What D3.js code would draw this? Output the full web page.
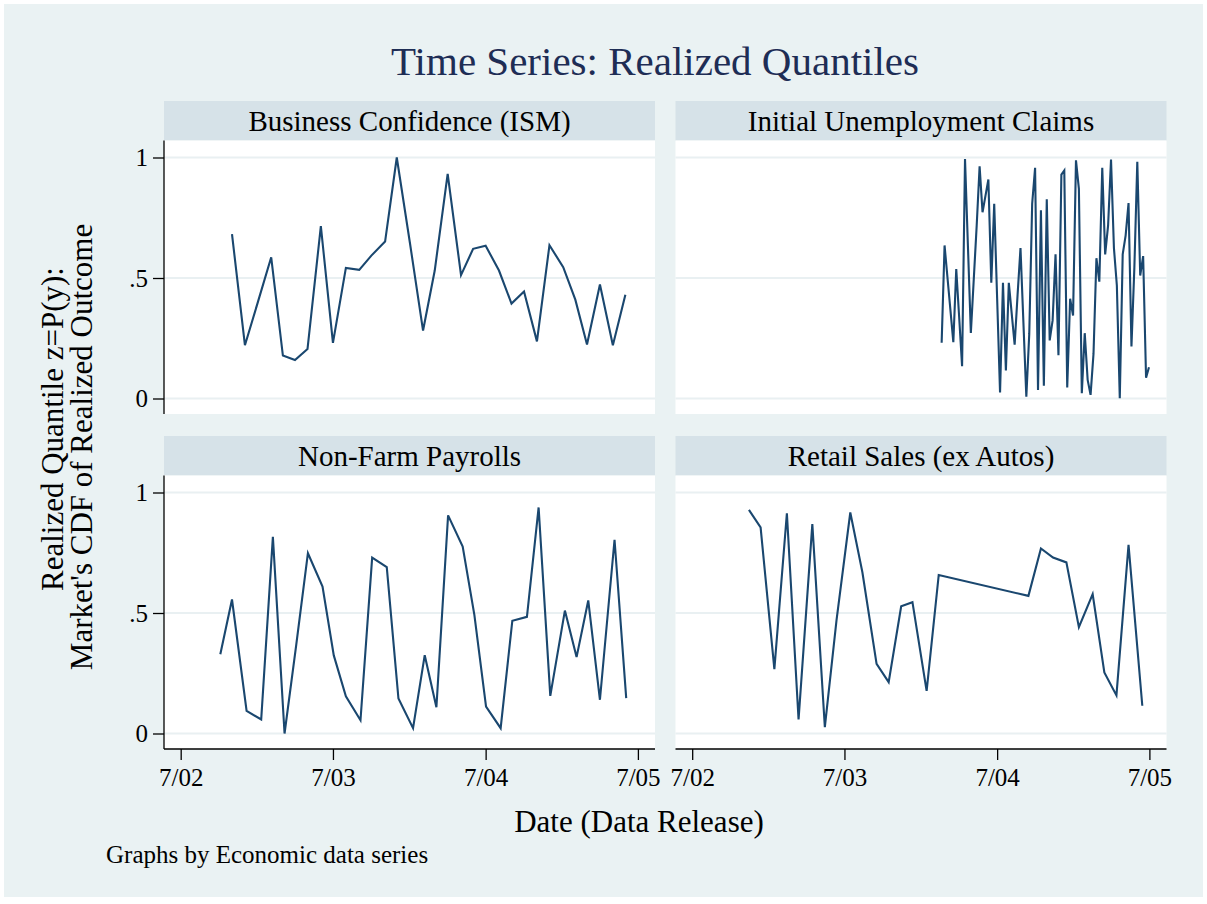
<!DOCTYPE html>
<html>
<head>
<meta charset="utf-8">
<script src="https://cdn.jsdelivr.net/npm/d3@7"></script>
<style>
  body { margin: 0; background: #ffffff; }
  svg text { font-family: "Liberation Serif", "Times New Roman", serif; }
</style>
</head>
<body>
<script>

// panel names, in the order they are drawn (top-left, top-right, bottom-left, bottom-right)
var seriesNames = ["Business Confidence (ISM)", "Initial Unemployment Claims", "Non-Farm Payrolls", "Retail Sales (ex Autos)"];

var ismDates = ["2002-11-01","2002-12-02","2003-01-02","2003-02-03","2003-03-03","2003-04-01","2003-05-01","2003-06-02",
  "2003-07-01","2003-08-01","2003-09-02","2003-10-01","2003-11-03","2003-12-01","2004-01-02","2004-02-02","2004-03-01",
  "2004-04-01","2004-05-03","2004-06-01","2004-07-01","2004-08-02","2004-09-01","2004-10-01","2004-11-01","2004-12-01",
  "2005-01-03","2005-02-01","2005-03-01","2005-04-01","2005-05-02","2005-06-01"];
var ismValues = [0.682,0.221,0.40,0.586,0.178,0.160,0.205,0.715,0.231,0.542,0.534,0.593,0.651,1.0,0.64,0.282,0.531,
  0.932,0.512,0.621,0.634,0.531,0.394,0.444,0.237,0.636,0.545,0.41,0.224,0.473,0.221,0.430];

var claimsDates = ["2004-02-19","2004-02-26","2004-03-04","2004-03-11","2004-03-18","2004-03-25","2004-04-01","2004-04-08",
  "2004-04-15","2004-04-22","2004-04-29","2004-05-06","2004-05-13","2004-05-20","2004-05-27","2004-06-03","2004-06-10",
  "2004-06-17","2004-06-24","2004-07-01","2004-07-08","2004-07-15","2004-07-22","2004-07-29","2004-08-05","2004-08-12",
  "2004-08-19","2004-08-26","2004-09-02","2004-09-09","2004-09-16","2004-09-23","2004-09-30","2004-10-07","2004-10-14",
  "2004-10-21","2004-10-28","2004-11-04","2004-11-11","2004-11-18","2004-11-25","2004-12-02","2004-12-09","2004-12-16",
  "2004-12-23","2004-12-30","2005-01-06","2005-01-13","2005-01-20","2005-01-27","2005-02-03","2005-02-10","2005-02-17",
  "2005-02-24","2005-03-03","2005-03-10","2005-03-17","2005-03-24","2005-03-31","2005-04-07","2005-04-14","2005-04-21",
  "2005-04-28","2005-05-05","2005-05-12","2005-05-19","2005-05-26","2005-06-02","2005-06-09","2005-06-16","2005-06-23",
  "2005-06-30"];
var claimsValues = [0.231,0.635,0.501,0.368,0.234,0.537,0.337,0.134,0.994,0.633,0.272,0.495,0.718,0.963,0.773,0.841,
  0.909,0.480,0.808,0.416,0.025,0.480,0.116,0.480,0.351,0.223,0.430,0.624,0.315,0.007,0.268,0.808,0.957,0.035,0.781,
  0.053,0.827,0.241,0.324,0.598,0.180,0.929,0.946,0.046,0.414,0.344,0.988,0.870,0.022,0.271,0.077,0.015,0.185,0.582,
  0.485,0.957,0.598,0.718,0.992,0.624,0.469,0.001,0.598,0.676,0.811,0.216,0.545,0.982,0.510,0.591,0.086,0.130];

var nfpDates = ["2002-10-04","2002-11-01","2002-12-06","2003-01-10","2003-02-07","2003-03-07","2003-04-04","2003-05-02",
  "2003-06-06","2003-07-03","2003-08-01","2003-09-05","2003-10-03","2003-11-07","2003-12-05","2004-01-09","2004-02-06",
  "2004-03-05","2004-04-02","2004-05-07","2004-06-04","2004-07-02","2004-08-06","2004-09-03","2004-10-08","2004-11-05",
  "2004-12-03","2005-01-07","2005-02-04","2005-03-04","2005-04-01","2005-05-06","2005-06-03"];
var nfpValues = [0.329,0.556,0.094,0.058,0.816,0.0,0.368,0.748,0.61,0.324,0.154,0.055,0.73,0.69,0.145,0.022,0.325,
  0.109,0.905,0.776,0.492,0.112,0.022,0.468,0.484,0.938,0.156,0.51,0.317,0.552,0.14,0.804,0.147];

var retailDates = ["2002-11-14","2002-12-12","2003-01-14","2003-02-13","2003-03-13","2003-04-15","2003-05-15","2003-06-12",
  "2003-07-15","2003-08-13","2003-09-16","2003-10-15","2003-11-14","2003-12-11","2004-01-14","2004-02-12",
  "2004-09-14","2004-10-14","2004-11-12","2004-12-14","2005-01-13","2005-02-15","2005-03-15","2005-04-13","2005-05-12",
  "2005-06-14"];
var retailValues = [0.928,0.855,0.267,0.914,0.058,0.869,0.026,0.47,0.917,0.669,0.289,0.213,0.528,0.545,0.177,0.658,
  0.571,0.768,0.730,0.71,0.441,0.578,0.253,0.158,0.783,0.115];

var xTickDates = ["2002-07-01","2003-07-01","2004-07-01","2005-07-01"];
var xTickLabels = ["7/02","7/03","7/04","7/05"];
var yTickValues = [0, 0.5, 1];
var yTickLabels = ["0", ".5", "1"];

var parseDate = d3.timeParse("%Y-%m-%d");

function makeSeries(dates, values){ // pair up dates and values for d3.line
	var out = [];
	for (var i = 0; i < dates.length; i++){
		out.push({ date: parseDate(dates[i]), value: values[i] });
	}
	return out;
}

var allSeries = [
	makeSeries(ismDates, ismValues),
	makeSeries(claimsDates, claimsValues),
	makeSeries(nfpDates, nfpValues),
	makeSeries(retailDates, retailValues)
];

var width = 1207, height = 904;
var bgColor = "#eaf2f3", stripColor = "#d6e2e8", gridColor = "#e9f0f2", lineColor = "#1a476f";

var svg = d3.select("body").append("svg")
	.attr("width", width)
	.attr("height", height);

svg.append("rect").attr("x", 0).attr("y", 0).attr("width", width).attr("height", height).attr("fill", "#ffffff");
svg.append("rect").attr("x", 4).attr("y", 4).attr("width", 1199).attr("height", 893).attr("fill", bgColor);

// panel geometry
var colX = [164, 675.5];
var panelW = 491;
var stripTop = [101, 436];
var stripH = 39.5;
var plotH = 273.5;

var x = d3.scaleTime()
	.domain([parseDate("2002-05-22"), parseDate("2005-08-11")])
	.range([0, panelW]);

var y = d3.scaleLinear()
	.domain([0, 1])
	.range([plotH - 15.5, plotH - 15.5 - 241]);

var line = d3.line()
	.x(function (d) { return x(d.date); })
	.y(function (d) { return y(d.value); });

for (var p = 0; p < 4; p++){
	var col = p % 2, row = Math.floor(p / 2);
	var px = colX[col];
	var sy = stripTop[row];
	var py = sy + stripH;

	// header strip
	svg.append("rect")
		.attr("x", px).attr("y", sy)
		.attr("width", panelW).attr("height", stripH)
		.attr("fill", stripColor);
	svg.append("text")
		.attr("x", px + panelW / 2).attr("y", sy + 29.5)
		.attr("text-anchor", "middle")
		.attr("font-size", "29px")
		.attr("fill", "#000")
		.text(seriesNames[p]);

	var g = svg.append("g").attr("transform", "translate(" + px + "," + py + ")");

	g.append("rect")
		.attr("width", panelW).attr("height", plotH)
		.attr("fill", "#ffffff");

	g.selectAll(".grid")
		.data(yTickValues)
		.enter().append("line")
		.attr("x1", 0).attr("x2", panelW)
		.attr("y1", function (d) { return y(d); })
		.attr("y2", function (d) { return y(d); })
		.attr("stroke", gridColor)
		.attr("stroke-width", 2);

	g.append("path")
		.datum(allSeries[p])
		.attr("d", line)
		.attr("fill", "none")
		.attr("stroke", lineColor)
		.attr("stroke-width", 2.1)
		.attr("stroke-linejoin", "miter");

	if (col == 0){ // y axis on the left column only
		var yAxis = d3.axisLeft(y)
			.tickValues(yTickValues)
			.tickFormat(function (d, i) { return yTickLabels[i]; })
			.tickSize(11)
			.tickPadding(5);
		var ya = g.append("g").call(yAxis);
		ya.select(".domain").attr("d", "M0,0V" + plotH);
		ya.selectAll("text").attr("font-size", "25px").attr("font-family", "Liberation Serif, serif").attr("fill", "#000");
		ya.selectAll("line, path").attr("stroke", "#000").attr("stroke-width", 1.3);
	}

	if (row == 1){ // x axis on the bottom row only
		var xAxis = d3.axisBottom(x)
			.tickValues(xTickDates.map(parseDate))
			.tickFormat(function (d, i) { return xTickLabels[i]; })
			.tickSize(11)
			.tickPadding(8);
		var xa = g.append("g").attr("transform", "translate(0," + plotH + ")").call(xAxis);
		xa.select(".domain").attr("d", "M0,0H" + panelW);
		xa.selectAll("text").attr("font-size", "25px").attr("font-family", "Liberation Serif, serif").attr("fill", "#000");
		xa.selectAll("line, path").attr("stroke", "#000").attr("stroke-width", 1.3);
	}
}

// titles
svg.append("text")
	.attr("x", 655).attr("y", 75)
	.attr("text-anchor", "middle")
	.attr("font-size", "41px")
	.attr("fill", "#1e2d55")
	.text("Time Series: Realized Quantiles");

svg.append("text")
	.attr("x", 639).attr("y", 832)
	.attr("text-anchor", "middle")
	.attr("font-size", "31px")
	.attr("fill", "#000")
	.text("Date (Data Release)");

svg.append("text")
	.attr("transform", "translate(63,429) rotate(-90)")
	.attr("text-anchor", "middle")
	.attr("font-size", "31px")
	.attr("fill", "#000")
	.text("Realized Quantile z=P(y):");

svg.append("text")
	.attr("transform", "translate(92,447) rotate(-90)")
	.attr("text-anchor", "middle")
	.attr("font-size", "31px")
	.attr("fill", "#000")
	.text("Market's CDF of Realized Outcome");

svg.append("text")
	.attr("x", 106).attr("y", 863)
	.attr("font-size", "25px")
	.attr("fill", "#000")
	.text("Graphs by Economic data series");

</script>
</body>
</html>
